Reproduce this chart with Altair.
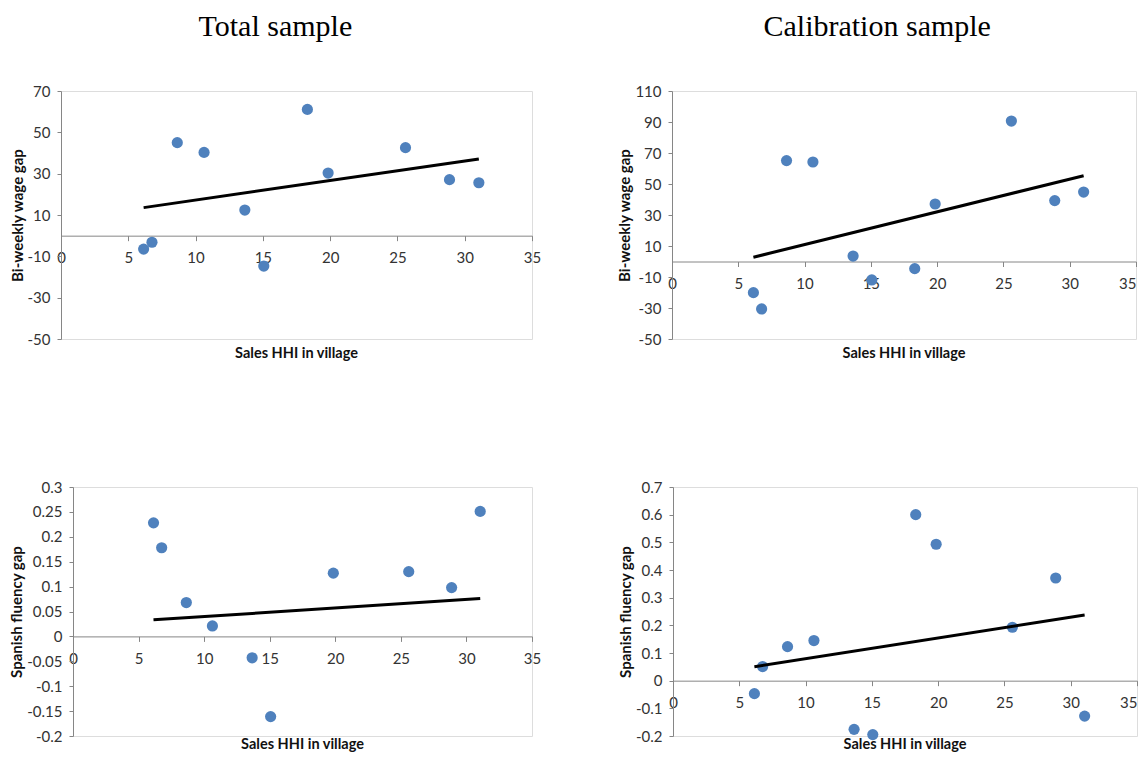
import altair as alt
import pandas as pd

# Sales HHI of each village (x values, same villages in every panel)
hhi = [6.14, 6.76, 8.64, 10.63, 13.66, 15.07, 18.31, 19.85, 25.6, 28.87, 31.05]

# Bi-weekly wage gap
wage_total = [-6.5, -3.2, 45.0, 40.3, 12.4, -14.7, 61.1, 30.3, 42.6, 27.1, 25.6]
wage_calib = [-20.1, -30.6, 65.1, 64.2, 3.5, -11.9, -4.6, 37.1, 90.6, 39.3, 44.8]

# Spanish fluency gap. In the total sample the village at HHI 18.31 lies below
# the axis minimum (-0.2): it is not drawn but still enters the fitted line.
span_total = [0.228, 0.178, 0.068, 0.021, -0.043, -0.161, -0.33, 0.127, 0.130, 0.098, 0.251]
span_calib = [-0.047, 0.051, 0.123, 0.145, -0.176, -0.195, 0.600, 0.493, 0.193, 0.371, -0.128]

x_ticks = [0, 5, 10, 15, 20, 25, 30, 35]
wage_total_ticks = [-50, -30, -10, 10, 30, 50, 70]
wage_calib_ticks = [-50, -30, -10, 10, 30, 50, 70, 90, 110]
span_total_ticks = [-0.2, -0.15, -0.1, -0.05, 0, 0.05, 0.1, 0.15, 0.2, 0.25, 0.3]
span_calib_ticks = [-0.2, -0.1, 0, 0.1, 0.2, 0.3, 0.4, 0.5, 0.6, 0.7]

LABEL_FONT = "Lato"
AXIS_GREY = "#868686"
BLUE = "#4F81BD"


def panel(values, ydomain, yticks, ytitle, width, height, title_offset, flush_last):
    df = pd.DataFrame({"hhi": hhi, "gap": values})
    # pixel offset that puts the x axis on the y = 0 line
    zero_offset = -height * (0 - ydomain[0]) / (ydomain[1] - ydomain[0])
    if flush_last:
        xalign = {"condition": {"test": "datum.value >= 35", "value": "right"},
                  "value": "center"}
    else:
        xalign = "center"
    xenc = alt.X(
        "hhi:Q",
        scale=alt.Scale(domain=[0, 35], nice=False, zero=False),
        axis=alt.Axis(
            values=x_ticks, tickCount=len(x_ticks), offset=zero_offset,
            title=None, grid=False,
            domainColor=AXIS_GREY, tickColor=AXIS_GREY, tickSize=5,
            labelFont=LABEL_FONT, labelFontSize=15, labelColor="#333333",
            labelPadding=10, labelOverlap=False, labelFlush=False,
            labelAlign=xalign,
        ),
    )
    yenc = alt.Y(
        "gap:Q",
        scale=alt.Scale(domain=ydomain, nice=False, zero=False),
        axis=alt.Axis(
            values=yticks, tickCount=len(yticks), title=ytitle, grid=False,
            domainColor=AXIS_GREY, tickColor=AXIS_GREY, tickSize=4,
            labelFont=LABEL_FONT, labelFontSize=15, labelColor="#333333",
            labelPadding=7, labelOverlap=False, labelFlush=False,
            labelExpr="'' + datum.value",
            titleFont=LABEL_FONT, titleFontSize=15, titleFontWeight="bold",
            titleColor="#111111", titlePadding=2,
        ),
    )
    base = alt.Chart(df).transform_filter("isValid(datum.gap)")
    pts = base.transform_filter(
        f"datum.gap >= {ydomain[0]} && datum.gap <= {ydomain[1]}"
    ).mark_circle(size=125, color=BLUE, opacity=1).encode(x=xenc, y=yenc)
    fit = (
        base.transform_regression("hhi", "gap")
        .mark_line(color="black", strokeWidth=3)
        .encode(x=alt.X("hhi:Q"), y=alt.Y("gap:Q"))
    )
    return alt.layer(pts, fit).properties(
        width=width,
        height=height,
        title=alt.TitleParams(
            "Sales HHI in village", orient="bottom", anchor="middle",
            font=LABEL_FONT, fontSize=14.5, fontWeight="bold", color="#111111",
            offset=title_offset,
        ),
    )


def spacer():
    # empty, invisible 1px view so each row starts from its own left edge
    return alt.Chart(pd.DataFrame({"a": []})).mark_point(opacity=0, size=0).encode(
        x=alt.value(0), y=alt.value(0)
    ).properties(
        width=1, height=1,
        view=alt.ViewBackground(stroke="transparent", fill="transparent", strokeWidth=0),
    )


p1 = panel(wage_total, [-50, 70], wage_total_ticks, "Bi-weekly wage gap", 471, 248, 0, False)
p2 = panel(wage_calib, [-50, 110], wage_calib_ticks, "Bi-weekly wage gap", 464, 248, 0, True)
p3 = panel(span_total, [-0.2, 0.3], span_total_ticks, "Spanish fluency gap", 459, 249, -6, False)
p4 = panel(span_calib, [-0.2, 0.7], span_calib_ticks, "Spanish fluency gap", 464, 249, -6, True)

col_title = dict(font="Liberation Serif", fontSize=30, fontWeight="normal",
                 color="black", anchor="middle", offset=42)

top_left = alt.vconcat(p1).properties(title=alt.TitleParams("Total sample", **col_title))
top_right = alt.vconcat(p2).properties(title=alt.TitleParams("Calibration sample", **col_title))

row1 = alt.hconcat(spacer(), alt.hconcat(top_left, top_right, spacing=75), spacing=0)
row2 = alt.hconcat(spacer(), alt.hconcat(p3, p4, spacing=75), spacing=0)

chart = (
    alt.vconcat(row1, row2, spacing=118)
    .properties(padding={"left": 0, "top": 3, "right": 0, "bottom": 0})
    .configure_view(stroke=None, strokeWidth=0, fill=None)
    .configure(background="white")
)

chart.save("out.html", embed_options={"renderer": "svg", "actions": False})
